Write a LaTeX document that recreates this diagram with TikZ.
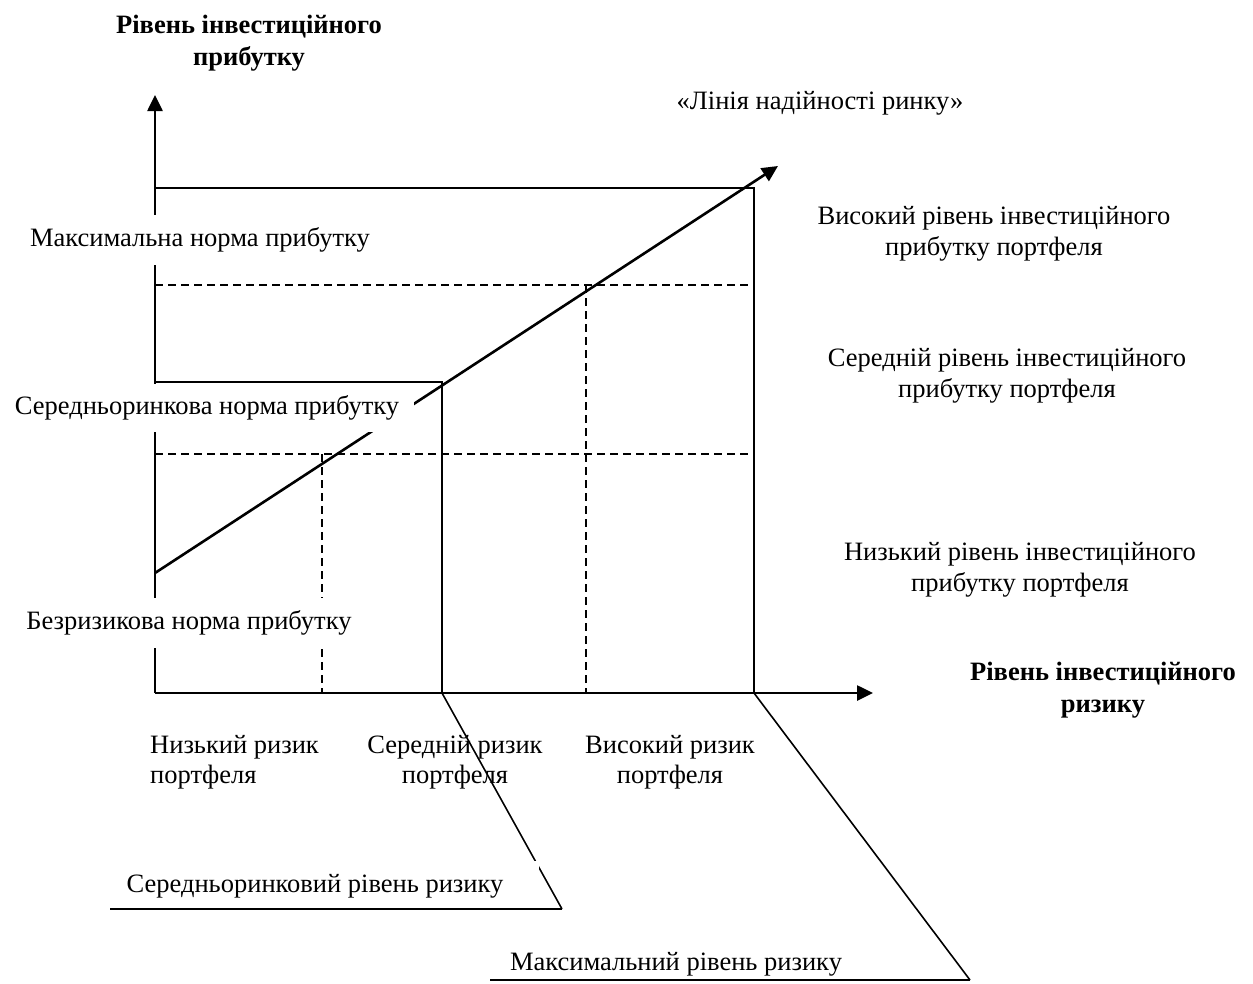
\documentclass[tikz,border=0pt]{standalone}
\usepackage{fontspec}
\setmainfont{Liberation Serif}
\usetikzlibrary{arrows.meta}
\begin{document}
\begin{tikzpicture}[x=1pt,y=-1pt,
  lbl/.style={font=\fontsize{26.5}{30.5}\selectfont, align=center, inner sep=0pt},
  blbl/.style={font=\fontsize{26.5}{32}\selectfont\bfseries, align=center, inner sep=0pt},
  cover/.style={lbl, fill=white, minimum height=50pt},
  axisline/.style={line width=2.6pt, -{Triangle[length=16pt,width=15pt]}},
  boxline/.style={line width=2pt},
  dline/.style={line width=1.4pt, dash pattern=on 8pt off 5pt},
  slant/.style={line width=1.6pt}]
\useasboundingbox (0,0) rectangle (1253,983);
% coordinates
\coordinate (O) at (155,693);
\coordinate (Ytip) at (155,95);
\coordinate (Xtip) at (873,693);
\coordinate (TL) at (155,188);
\coordinate (TR) at (754,188);
\coordinate (BR) at (754,693);
\coordinate (ML) at (155,382);
\coordinate (MR) at (442,382);
\coordinate (MB) at (442,693);
\coordinate (D1L) at (155,285);
\coordinate (D1R) at (754,285);
\coordinate (D2L) at (155,454);
\coordinate (D2R) at (754,454);
\coordinate (V1T) at (322,454);
\coordinate (V1B) at (322,693);
\coordinate (V2T) at (586,285);
\coordinate (V2B) at (586,693);
\coordinate (Ls) at (155,573);
\coordinate (Le) at (778,166);
\coordinate (S1e) at (562,909);
\coordinate (U1s) at (110,909);
\coordinate (S2e) at (970,980);
\coordinate (U2s) at (490,980);
% grid lines
\draw[boxline] (TL) -- (TR) -- (BR);
\draw[boxline] (ML) -- (MR) -- (MB);
\draw[dline] (D1L) -- (D1R);
\draw[dline] (D2L) -- (D2R);
\draw[dline] (V1T) -- (V1B);
\draw[dline] (V2T) -- (V2B);
% axes
\draw[axisline] (O) -- (Ytip);
\draw[axisline] (O) -- (Xtip);
% market line
\draw[axisline] (Ls) -- (Le);
% slanted leader lines
\draw[slant] (MB) -- (S1e);
\draw[slant] (BR) -- (S2e);
% covering labels
\node[cover, inner xsep=5pt] (maxn) at (200,240) {Максимальна норма прибутку};
\node[cover, inner xsep=15pt, minimum height=48pt] (midn) at (207,408) {Середньоринкова норма прибутку};
\node[cover, inner xsep=5pt] (rfn) at (189,623) {Безризикова норма прибутку};
\node[cover, minimum width=448pt] (mrisk) at (315,886) {Середньоринковий рівень ризику};
% underlines
\draw[slant] (S1e) -- (U1s);
\draw[slant] (S2e) -- (U2s);
% other labels
\node[blbl] (ytitle) at (249,43) {Рівень інвестиційного\\прибутку};
\node[lbl] (mline) at (820,103) {«Лінія надійності ринку»};
\node[lbl] (hi) at (994,234) {Високий рівень інвестиційного\\прибутку портфеля};
\node[lbl] (mid) at (1007,376) {Середній рівень інвестиційного\\прибутку портфеля};
\node[lbl] (lo) at (1020,570) {Низький рівень інвестиційного\\прибутку портфеля};
\node[blbl] (xtitle) at (1103,690) {Рівень інвестиційного\\ризику};
\node[lbl, align=left, anchor=west] (lr) at (150,762) {Низький ризик\\портфеля};
\node[lbl] (mr) at (455,762) {Середній ризик\\портфеля};
\node[lbl] (hr) at (670,762) {Високий ризик\\портфеля};
\node[lbl] (maxr) at (676,964) {Максимальний рівень ризику};
\end{tikzpicture}
\end{document}
